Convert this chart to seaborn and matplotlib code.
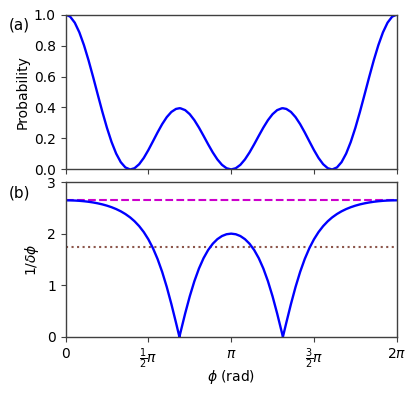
import matplotlib
matplotlib.use("Agg")
import matplotlib.pyplot as plt
import numpy as np
import seaborn as sns

# phase samples (degrees), 0 .. 2*pi
phi_deg = [0, 5, 10, 15, 20, 25, 30, 35, 40, 45, 50, 55, 60, 65, 70, 70.53,
           75, 80, 85, 90, 95, 100, 105, 110, 115, 120, 123.75, 125, 130, 135,
           140, 145, 150, 155, 160, 165, 170, 175, 180,
           185, 190, 195, 200, 205, 210, 215, 220, 225, 230, 235, 236.25, 240,
           245, 250, 255, 260, 265, 270, 275, 280, 285, 289.47, 290, 295, 300,
           305, 310, 315, 320, 325, 330, 335, 340, 345, 350, 355, 360]

# panel (a): detection probability
probability = [1.0, 0.9867, 0.9477, 0.8851, 0.8023, 0.7041, 0.5957, 0.4830,
               0.3720, 0.2683, 0.1770, 0.1022, 0.0469, 0.0128, 0.0001, 0.0,
               0.0079, 0.0337, 0.0741, 0.1250, 0.1816, 0.2389, 0.2924, 0.3376,
               0.3712, 0.3906, 0.3951, 0.3946, 0.3829, 0.3567, 0.3181, 0.2702,
               0.2168, 0.1620, 0.1100, 0.0647, 0.0297, 0.0076, 0.0,
               0.0076, 0.0297, 0.0647, 0.1100, 0.1620, 0.2168, 0.2702, 0.3181,
               0.3567, 0.3829, 0.3946, 0.3951, 0.3906, 0.3712, 0.3376, 0.2924,
               0.2389, 0.1816, 0.1250, 0.0741, 0.0337, 0.0079, 0.0, 0.0001,
               0.0128, 0.0469, 0.1022, 0.1770, 0.2683, 0.3720, 0.4830, 0.5957,
               0.7041, 0.8023, 0.8851, 0.9477, 0.9867, 1.0]

# panel (b): inverse phase uncertainty
inv_dphi = [2.6458, 2.6447, 2.6414, 2.6359, 2.6279, 2.6174, 2.6039, 2.5872,
            2.5668, 2.5420, 2.5121, 2.4761, 2.4327, 2.3803, 2.3169, 2.3094,
            2.2398, 2.1457, 2.0307, 1.8898, 1.7178, 1.5091, 1.2594, 0.9672,
            0.6363, 0.2774, 0.0, 0.0924, 0.4529, 0.7856, 1.0779, 1.3243,
            1.5249, 1.6833, 1.8044, 1.8931, 1.9535, 1.9885, 2.0,
            1.9885, 1.9535, 1.8931, 1.8044, 1.6833, 1.5249, 1.3243, 1.0779,
            0.7856, 0.4529, 0.0924, 0.0, 0.2774, 0.6363, 0.9672, 1.2594,
            1.5091, 1.7178, 1.8898, 2.0307, 2.1457, 2.2398, 2.3094, 2.3169,
            2.3803, 2.4327, 2.4761, 2.5121, 2.5420, 2.5668, 2.5872, 2.6039,
            2.6174, 2.6279, 2.6359, 2.6414, 2.6447, 2.6458]

heisenberg_level = 2.6458   # dashed magenta
sql_level = 1.7321          # dotted brown

xtick_pos = [0, 90, 180, 270, 360]
xtick_labels = ["0", r"$\frac{1}{2}\pi$", r"$\pi$", r"$\frac{3}{2}\pi$", r"$2\pi$"]

sns.set_style("ticks")
plt.rcParams["font.family"] = ["DejaVu Sans"]
plt.rcParams["axes.edgecolor"] = "0.25"
plt.rcParams["text.color"] = "black"
plt.rcParams["axes.labelcolor"] = "black"
plt.rcParams["xtick.color"] = "black"
plt.rcParams["ytick.color"] = "black"

fig = plt.figure(figsize=(4.15, 3.94), dpi=100)
ax_a = fig.add_axes([0.158, 0.570, 0.798, 0.393])
ax_b = fig.add_axes([0.158, 0.145, 0.798, 0.393])

sns.lineplot(x=phi_deg, y=probability, ax=ax_a, color="blue", linewidth=1.7)
ax_a.set_xlim(0, 360)
ax_a.set_ylim(0, 1)
ax_a.set_xticks(xtick_pos)
ax_a.set_xticklabels([])
ax_a.set_yticks([0, 0.2, 0.4, 0.6, 0.8, 1.0])
ax_a.set_ylabel("Probability", labelpad=3)
fig.text(0.022, 0.955, "(a)", fontsize=11, va="top")

ax_b.axhline(heisenberg_level, color="#cc00cc", linestyle="--", linewidth=1.5)
ax_b.axhline(sql_level, color="tab:brown", linestyle=":", linewidth=1.5)
sns.lineplot(x=phi_deg, y=inv_dphi, ax=ax_b, color="blue", linewidth=1.7)
ax_b.set_xlim(0, 360)
ax_b.set_ylim(0, 3)
ax_b.set_xticks(xtick_pos)
ax_b.set_xticklabels(xtick_labels)
ax_b.set_yticks([0, 1, 2, 3])
ax_b.set_xlabel(r"$\phi$ (rad)", labelpad=-2)
ax_b.set_ylabel(r"$1/\delta\phi$")
fig.text(0.022, 0.530, "(b)", fontsize=11, va="top")

for ax in (ax_a, ax_b):
    ax.tick_params(direction="out", length=3.5, width=0.8, labelsize=10,
                   color="0.25")
    for s in ax.spines.values():
        s.set_linewidth(1.0)

fig.savefig("out.png", dpi=100)
